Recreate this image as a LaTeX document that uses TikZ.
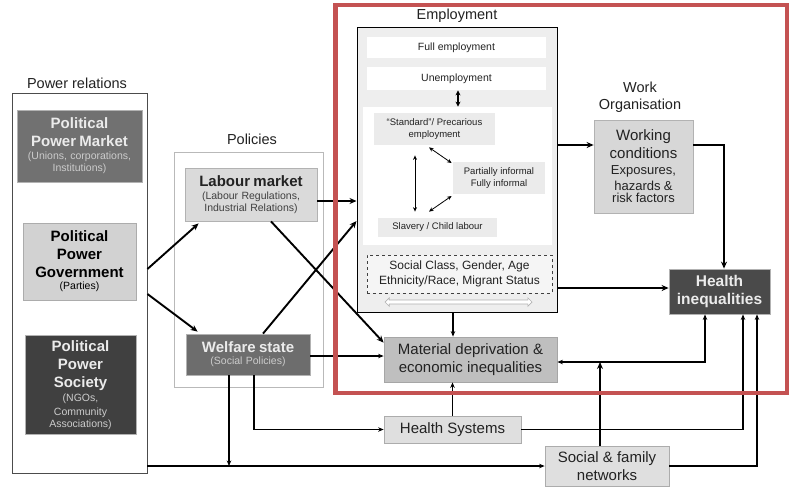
\documentclass[tikz,border=0pt]{standalone}
\usepackage{fontspec}
\setmainfont{Liberation Sans}
\usetikzlibrary{arrows.meta,calc,shapes.arrows}
\definecolor{redf}{HTML}{C45252}
\definecolor{cMarket}{HTML}{717171}
\definecolor{cGov}{HTML}{D2D2D2}
\definecolor{cSoc}{HTML}{404040}
\definecolor{cLab}{HTML}{DADADA}
\definecolor{cWel}{HTML}{6D6D6D}
\definecolor{cEmp}{HTML}{EEEEEE}
\definecolor{cInner}{HTML}{EBEBEB}
\definecolor{cWork}{HTML}{D7D7D7}
\definecolor{cHealth}{HTML}{4A4A4A}
\definecolor{cMat}{HTML}{BFBFBF}
\definecolor{cLight}{HTML}{DFDFDF}
\definecolor{cTxt}{HTML}{222222}
\newcommand\szT{\fontsize{14.5}{17}\selectfont}
\newcommand\szB{\fontsize{15}{18}\selectfont\bfseries}
\newcommand\szS{\fontsize{10.5}{13}\selectfont\mdseries}
\newcommand\szSS{\fontsize{10.5}{14}\selectfont\mdseries}
\newcommand\szM{\fontsize{15}{18}\selectfont}
\newcommand\szW{\fontsize{13}{16}\selectfont}
\newcommand\szE{\fontsize{10.5}{12}\selectfont}
\newcommand\szX{\fontsize{9.5}{11.5}\selectfont}
\newcommand\szD{\fontsize{12}{15}\selectfont}
\begin{document}
\begin{tikzpicture}[x=1pt,y=-1pt,
  bx/.style={rectangle, inner sep=0pt, align=center, line width=0.8pt},
  thk/.style={line width=1.9pt, -{Stealth[length=7pt,width=6pt]}},
  thn/.style={line width=1.2pt, -{Stealth[length=5.5pt,width=4.5pt]}},
  tny/.style={line width=0.8pt, {Stealth[length=4.5pt,width=4pt]}-{Stealth[length=4.5pt,width=4pt]}},
  lbl/.style={text=cTxt, inner sep=0pt, align=center}
]
\useasboundingbox (0,0) rectangle (789,491);
\fill[white] (0,0) rectangle (789,491);

% ---------- Power relations ----------
\node[lbl, font=\szT] (powtitle) at (77,83) {Power relations};
\node[bx, draw=black!70, line width=0.9pt, minimum width=135, minimum height=380] (powerbox) at (79.5,283) {};
\node[bx, fill=cMarket, draw=gray!60, minimum width=125, minimum height=72, text width=123, text=white!92!black] (market) at (79.5,146)
  {\szB Political\\Power Market\par\szS\color{white!80!black}(Unions, corporations,\\Institutions)};
\node[bx, fill=cGov, draw=gray!65, minimum width=113, minimum height=77, text width=111, text=black] (gov) at (79.5,261.5)
  {\szB Political\\Power\\Government\par\szS(Parties)};
\node[bx, fill=cSoc, draw=gray!60, minimum width=111, minimum height=99, text width=109, text=white!92!black] (society) at (80.5,385)
  {\szB Political\\Power\\Society\par\szSS\color{white!80!black}(NGOs,\\Community\\Associations)};

% ---------- Policies ----------
\node[lbl, font=\szT] (poltitle) at (252,139) {Policies};
\node[bx, draw=gray!55, line width=0.9pt, minimum width=149, minimum height=235] (polbox) at (248.5,269.5) {};
\node[bx, fill=cLab, draw=gray!60, minimum width=132, minimum height=53, text width=130, text=cTxt] (labour) at (251,194.5)
  {\szB Labour market\par\szS\color{black!75}(Labour Regulations,\\Industrial Relations)};
\node[bx, fill=cWel, draw=gray!60, minimum width=124, minimum height=41, text width=122, text=white!92!black] (welfare) at (248,354.5)
  {\szB Welfare state\par\szS\color{white!80!black}(Social Policies)};

% ---------- Employment ----------
\node[lbl, font=\szT] (emptitle) at (457,16) {Employment};
\node[bx, fill=cEmp, draw=black, line width=1pt, minimum width=200, minimum height=285] (empbox) at (457,169.5) {};
\node[bx, fill=white, minimum width=179, minimum height=21, font=\szE, text=cTxt] (fullemp) at (456.5,47.5) {Full employment};
\node[bx, fill=white, minimum width=179, minimum height=23, font=\szE, text=cTxt] (unemp) at (456.5,78.5) {Unemployment};
\node[bx, fill=white, minimum width=189, minimum height=138] (whitereg) at (457.5,176) {};
\node[bx, fill=cInner, minimum width=121, minimum height=32, font=\szX, text=cTxt] (standard) at (434.5,129) {``Standard''/ Precarious\\employment};
\node[bx, fill=cInner, minimum width=92, minimum height=32, font=\szX, text=cTxt] (informal) at (499,178) {Partially informal\\Fully informal};
\node[bx, fill=cInner, minimum width=119, minimum height=19, font=\szX, text=cTxt] (slavery) at (437.5,227.5) {Slavery / Child labour};
\node[bx, fill=white!96!black, draw=black!75, dashed, line width=1pt, minimum width=185, minimum height=38, font=\szD, text=cTxt] (social class) at (459.5,274) {Social Class, Gender, Age\\Ethnicity/Race, Migrant Status};
\node[double arrow, draw=gray!60, fill=white, line width=0.7pt, inner sep=1.6pt, double arrow head extend=2.2pt, double arrow head indent=0pt, minimum height=147] (harrow) at (458.5,302) {};

\draw[line width=1.4pt, {Stealth[length=5pt,width=5pt]}-{Stealth[length=5pt,width=5pt]}] ([xshift=1.5pt]unemp.south) -- ([xshift=1.5pt]unemp.south |- whitereg.north);
\draw[tny] ($(standard.south)+(-19.5,10)$) -- ($(slavery.north)+(-22.5,-6)$);
\draw[tny] ($(standard.south)+(-5.5,2)$) -- ($(informal.west)+(-1,-15)$);
\draw[tny] ($(slavery.north)+(-8.5,-6)$) -- ($(informal.west)+(-1,18)$);

% ---------- Work organisation ----------
\node[lbl, font=\szT] (worktitle) at (640,97) {Work\\Organisation};
\node[bx, fill=cWork, draw=gray!60, minimum width=99, minimum height=93, text width=97, text=cTxt] (workcond) at (643.5,166.5)
  {\szM Working\\conditions\par\szW Exposures,\\hazards \&\\risk factors};
\node[bx, fill=cHealth, draw=gray!60, minimum width=101, minimum height=45, text=white!92!black, font=\fontsize{15.5}{17.5}\selectfont\bfseries] (health) at (719.5,291.5) {Health\\inequalities};

% ---------- Bottom ----------
\node[bx, fill=cMat, draw=gray!70, minimum width=173, minimum height=45, font=\szM, text=cTxt] (matdep) at (470.5,359.5) {Material deprivation \&\\economic inequalities};
\node[bx, fill=cLight, draw=gray!65, minimum width=137, minimum height=27, font=\szM, text=cTxt] (healthsys) at (452.5,429.5) {Health Systems};
\node[bx, fill=cLight, draw=gray!65, minimum width=124, minimum height=40, font=\szM, text=cTxt] (social) at (607,466) {Social \& family\\networks};

% ---------- coordinates ----------
\coordinate (g1) at ($(powerbox.east)+(0,-14)$);
\coordinate (g2) at ($(powerbox.east)+(0,11)$);
\coordinate (wc1) at ($(workcond.west)+(0,-21.5)$);
\coordinate (hw) at ($(health.west)+(0,-3.5)$);
\coordinate (hj) at ($(matdep.east)+(0,2.5)$);
\coordinate (sj) at ($(social.north)+(-7,0)$);

% ---------- connectors ----------
\draw[thk] (g1) -- ($(labour.south west)+(14,2)$);
\draw[thk] (g2) -- ($(welfare.north west)+(12,-2)$);
\draw[thk] ([yshift=-6.5pt]labour.east) -- ([yshift=-6.5pt]labour.east -| empbox.west);
\draw[thk] ([xshift=20pt]labour.south) -- ([yshift=-6pt]matdep.north west);
\draw[thk] ([xshift=15pt]welfare.north) -- ([yshift=-51.5pt]empbox.west);
\draw[thn] ([yshift=-1.5pt]welfare.east) -- ([yshift=-1.5pt]welfare.east -| matdep.west);
\draw[thn] ([xshift=-19pt]welfare.south) -- ([xshift=-19pt]welfare.south |- social.west);
\draw[thn] ([xshift=6pt]welfare.south) |- (healthsys.west);
\draw[thn] (social.west -| powerbox.east) -- (social.west);
\draw[thn] ([xshift=-4pt]empbox.south) -- ([xshift=-4pt]empbox.south |- matdep.north);
\draw[thn] (healthsys.north) -- (healthsys.north |- matdep.south);
\draw[thn] (healthsys.east) -| ([xshift=23.5pt]health.south);
\draw[thn, {Stealth[length=5.5pt,width=4.5pt]}-{Stealth[length=5.5pt,width=4.5pt]}] ([xshift=-14.5pt]health.south) |- (hj);
\draw[thk] (sj) -- (sj |- hj);
\draw[thn] (social.east) -| ([xshift=37.5pt]health.south);
\draw[thk] (empbox.east |- wc1) -- (wc1);
\draw[thk] (workcond.east |- wc1) -| ([xshift=4.5pt]health.north);
\draw[thk] (empbox.east |- hw) -- (hw);

% ---------- red highlight ----------
\node[bx, draw=redf, line width=4.5pt, minimum width=452, minimum height=388] (redframe) at (561.5,199) {};
\end{tikzpicture}
\end{document}
